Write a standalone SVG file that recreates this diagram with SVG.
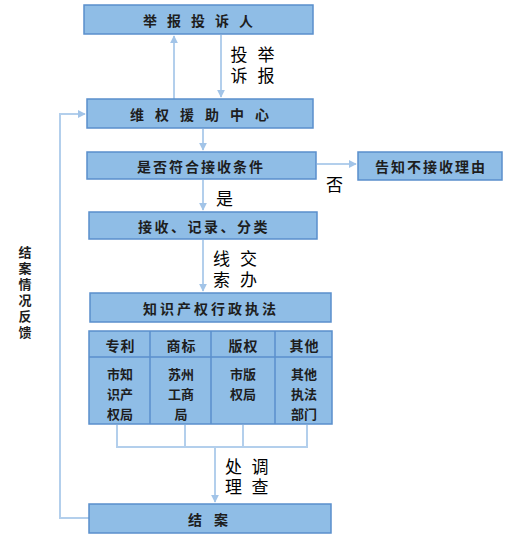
<svg xmlns="http://www.w3.org/2000/svg" width="509" height="539" viewBox="0 0 509 539">
<style>
.box{fill:#8fbde6;stroke:#5a8fcc;stroke-width:1.5}
.cell{fill:#8fbde6;stroke:#5a8fcc;stroke-width:1.5}
.sep{stroke:#5a8fcc;stroke-width:1.5}
.bt{font-family:"Noto Sans CJK SC","Noto Sans",sans-serif;font-size:14px;font-weight:bold;fill:#1e1e1e;text-anchor:middle;dominant-baseline:central}
.ct{font-family:"Noto Sans CJK SC","Noto Sans",sans-serif;font-size:13px;font-weight:bold;fill:#1e1e1e;text-anchor:middle;dominant-baseline:central}
.vt{font-family:"Noto Sans CJK SC","Noto Sans",sans-serif;font-size:13px;font-weight:bold;fill:#1e1e1e;writing-mode:vertical-rl;letter-spacing:3px}
.lb{font-family:"Noto Sans CJK SC","Noto Sans",sans-serif;font-size:17px;fill:#000;dominant-baseline:central}
.lv{font-family:"Noto Sans CJK SC","Noto Sans",sans-serif;font-size:17px;fill:#000;writing-mode:vertical-rl}
.cn{fill:none;stroke:#b3cfec;stroke-width:2}
</style>
<defs>
<marker id="ah" viewBox="0 0 10 10" refX="9" refY="5" markerWidth="4" markerHeight="4" orient="auto" markerUnits="strokeWidth">
<path d="M0,0 L10,5 L0,10 z" fill="#a2c4e8"/>
</marker>
</defs>
<rect width="509" height="539" fill="#ffffff"/>
<g id="connectors">
<line class="cn" x1="174" y1="99" x2="174" y2="36" marker-end="url(#ah)"/>
<line class="cn" x1="221" y1="35" x2="221" y2="97" marker-end="url(#ah)"/>
<line class="cn" x1="203" y1="129" x2="203" y2="150" marker-end="url(#ah)"/>
<line class="cn" x1="203" y1="180" x2="203" y2="210" marker-end="url(#ah)"/>
<line class="cn" x1="203" y1="240" x2="203" y2="291" marker-end="url(#ah)"/>
<line class="cn" x1="317" y1="164" x2="356" y2="164" marker-end="url(#ah)"/>
<path class="cn" d="M117,425 V447 H307 V425 M185,425 V447 M243,425 V447"/>
<line class="cn" x1="215" y1="447" x2="215" y2="502" marker-end="url(#ah)"/>
<polyline class="cn" points="89,518 60,518 60,114 85,114" marker-end="url(#ah)"/>
</g>
<g id="n-reporter">
<rect class="box" x="84" y="5" width="229" height="29"/>
<text class="bt" x="203" y="20" letter-spacing="10">举报投诉人</text>
</g>
<g id="n-center">
<rect class="box" x="87" y="99" width="226" height="29"/>
<text class="bt" x="205" y="114" letter-spacing="11">维权援助中心</text>
</g>
<g id="n-check">
<rect class="box" x="87" y="152" width="229" height="27"/>
<text class="bt" x="201" y="165.5" letter-spacing="2">是否符合接收条件</text>
</g>
<g id="n-reject">
<rect class="box" x="358" y="152" width="144" height="28"/>
<text class="bt" x="431" y="166" letter-spacing="2">告知不接收理由</text>
</g>
<g id="n-receive">
<rect class="box" x="89" y="212" width="228" height="27"/>
<text class="bt" x="204" y="225.5" letter-spacing="2.5">接收、记录、分类</text>
</g>
<g id="n-enforce">
<rect class="box" x="90" y="293" width="241" height="29"/>
<text class="bt" x="211" y="307.5" letter-spacing="3">知识产权行政执法</text>
</g>
<g id="n-table">
<rect class="cell" x="89" y="331" width="243" height="93"/>
<line class="sep" x1="89" y1="357" x2="332" y2="357"/>
<line class="sep" x1="150" y1="331" x2="150" y2="424"/>
<line class="sep" x1="211" y1="331" x2="211" y2="424"/>
<line class="sep" x1="275" y1="331" x2="275" y2="424"/>
<text class="bt" x="120.5" y="345" letter-spacing="1">专利</text>
<text class="bt" x="181.5" y="345" letter-spacing="1">商标</text>
<text class="bt" x="243.5" y="345" letter-spacing="1">版权</text>
<text class="bt" x="304.5" y="345" letter-spacing="1">其他</text>
<text class="ct" y="373"><tspan x="120">市知</tspan><tspan x="120" dy="20">识产</tspan><tspan x="120" dy="20">权局</tspan></text>
<text class="ct" y="373"><tspan x="181">苏州</tspan><tspan x="181" dy="20">工商</tspan><tspan x="181" dy="20">局</tspan></text>
<text class="ct" y="373"><tspan x="243">市版</tspan><tspan x="243" dy="20">权局</tspan></text>
<text class="ct" y="373"><tspan x="304">其他</tspan><tspan x="304" dy="20">执法</tspan><tspan x="304" dy="20">部门</tspan></text>
</g>
<g id="n-close">
<rect class="box" x="89" y="504" width="242" height="29"/>
<text class="bt" x="214" y="518.5" letter-spacing="12">结案</text>
</g>
<g id="labels">
<text class="lv" x="266" y="46.5" letter-spacing="4">举报</text>
<text class="lv" x="239" y="46.5" letter-spacing="4">投诉</text>
<text class="lb" x="326" y="183">否</text>
<text class="lb" x="216" y="197">是</text>
<text class="lv" x="248.5" y="250.5" letter-spacing="4">交办</text>
<text class="lv" x="221.5" y="250.5" letter-spacing="4">线索</text>
<text class="lv" x="260" y="458.5" letter-spacing="3">调查</text>
<text class="lv" x="233.5" y="458.5" letter-spacing="3">处理</text>
<text class="vt" x="25" y="245.5">结案情况反馈</text>
</g>
</svg>
